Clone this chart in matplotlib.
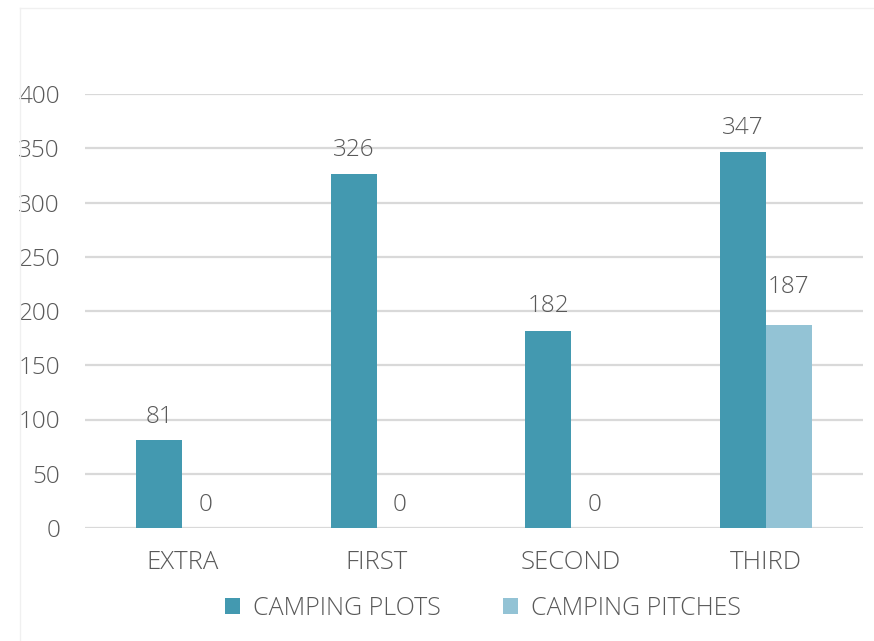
import matplotlib
matplotlib.use("Agg")
import matplotlib.pyplot as plt
from matplotlib.lines import Line2D
import numpy as np

categories = ["EXTRA", "FIRST", "SECOND", "THIRD"]
series_names = ["CAMPING PLOTS", "CAMPING PITCHES"]
plots = [81, 326, 182, 347]
pitches = [0, 0, 0, 187]
yticks = [0, 50, 100, 150, 200, 250, 300, 350, 400]

dark = "#4399B0"
light = "#93C3D5"
txt = "#595959"

plt.rcParams['font.family'] = ['Open Sans', 'DejaVu Sans']
plt.rcParams['font.weight'] = 'light'
FS = 17.5

fig = plt.figure(figsize=(8.74, 6.41), dpi=100)
ax = fig.add_axes([85/874, (641-528)/641, (863-85)/874, (528-94)/641])

x = np.arange(len(categories))
w = 0.237
b1 = ax.bar(x - w/2, plots, w, color=dark, label=series_names[0], zorder=3)
b2 = ax.bar(x + w/2, pitches, w, color=light, label=series_names[1], zorder=3)

ax.set_xlim(-0.5, len(categories) - 0.5)
ax.set_ylim(0, 400)
ax.set_yticks(yticks)
ax.set_yticklabels([str(t) for t in yticks])
ax.set_xticks(x)
ax.set_xticklabels(categories)
ax.tick_params(axis='both', length=0, labelsize=FS, colors=txt)
ax.tick_params(axis='x', labelsize=18.5, pad=16)
ax.tick_params(axis='y', pad=18)
for s in ax.spines.values():
    s.set_visible(False)
ax.yaxis.grid(True, color="#d9d9d9", linewidth=1.6, zorder=0)
ax.set_axisbelow(True)

off_plots = [8, 9, 9, 8.5]
off_pitches = [8, 8, 8, 19]
for rect, v, o in zip(b1, plots, off_plots):
    ax.annotate(str(v), (rect.get_x() + rect.get_width()/2, v), xytext=(0, o),
                textcoords="offset points", ha="center", va="bottom",
                fontsize=FS, color=txt, annotation_clip=False)
for rect, v, o in zip(b2, pitches, off_pitches):
    ax.annotate(str(v), (rect.get_x() + rect.get_width()/2, v), xytext=(0, o),
                textcoords="offset points", ha="center", va="bottom",
                fontsize=FS, color=txt, annotation_clip=False)

leg = fig.legend(loc="center", bbox_to_anchor=(483/874, (641-608.5)/641), ncol=2,
                 frameon=False, fontsize=18, handlelength=0.6, handleheight=0.6,
                 columnspacing=2.5, handletextpad=0.5)
for t in leg.get_texts():
    t.set_color(txt)

# faint chart border
fig.add_artist(Line2D([20/874, 20/874], [0, (641-8)/641], color="#f0f0f0", lw=1))
fig.add_artist(Line2D([20/874, 1], [(641-8)/641, (641-8)/641], color="#f0f0f0", lw=1))

fig.savefig("out.png", dpi=100)
